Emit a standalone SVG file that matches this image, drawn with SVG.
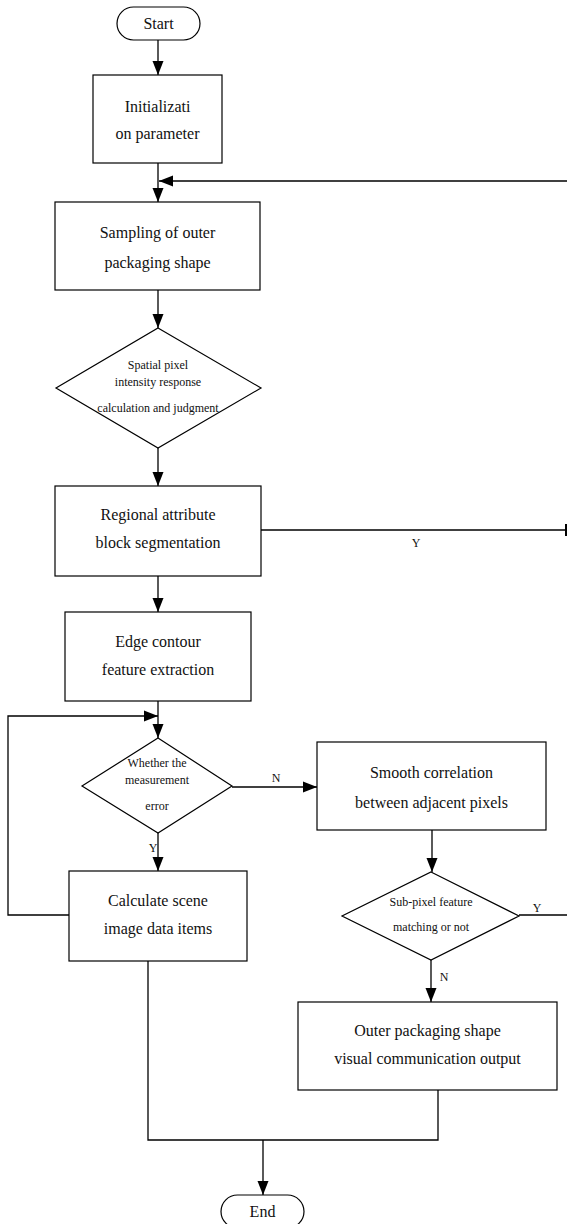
<svg xmlns="http://www.w3.org/2000/svg" width="567" height="1224" viewBox="0 0 567 1224">
  <style>
    .box { fill: #fff; stroke: #000; stroke-width: 1.2; }
    .line { fill: none; stroke: #000; stroke-width: 1.3; }
    .t { font-family: "Liberation Serif", "DejaVu Serif", serif; font-size: 16px; font-weight: normal; fill: #111; text-anchor: middle; }
    .s { font-family: "Liberation Serif", "DejaVu Serif", serif; font-size: 12px; font-weight: normal; fill: #111; text-anchor: middle; }
  </style>
  <defs>
    <marker id="arrow" viewBox="0 0 14 12" refX="14" refY="6" markerWidth="14" markerHeight="12" markerUnits="userSpaceOnUse" orient="auto">
      <path d="M0,0.5 L14,6 L0,11.5 Z" fill="#000"/>
    </marker>
  </defs>

  <!-- connectors -->
  <g id="connectors">
    <line class="line" x1="158" y1="40" x2="158" y2="75" marker-end="url(#arrow)"/>
    <line class="line" x1="158" y1="163" x2="158" y2="202" marker-end="url(#arrow)"/>
    <line class="line" x1="567" y1="181" x2="159" y2="181" marker-end="url(#arrow)"/>
    <line class="line" x1="158" y1="290" x2="158" y2="328" marker-end="url(#arrow)"/>
    <line class="line" x1="158" y1="448" x2="158" y2="486" marker-end="url(#arrow)"/>
    <line class="line" x1="261" y1="530" x2="566" y2="530"/>
    <line x1="566" y1="524" x2="566" y2="536" stroke="#000" stroke-width="2"/>
    <text class="s" x="416" y="547">Y</text>
    <line class="line" x1="158" y1="576" x2="158" y2="612" marker-end="url(#arrow)"/>
    <line class="line" x1="158" y1="701" x2="158" y2="738" marker-end="url(#arrow)"/>
    <polyline class="line" points="69,915 8,915 8,716 158,716" marker-end="url(#arrow)"/>
    <line class="line" x1="232" y1="787" x2="317" y2="787" marker-end="url(#arrow)"/>
    <text class="s" x="276" y="782">N</text>
    <line class="line" x1="158" y1="833" x2="158" y2="871" marker-end="url(#arrow)"/>
    <text class="s" x="153" y="852">Y</text>
    <line class="line" x1="432" y1="830" x2="432" y2="872" marker-end="url(#arrow)"/>
    <line class="line" x1="519" y1="915" x2="567" y2="915"/>
    <text class="s" x="537" y="912">Y</text>
    <line class="line" x1="431" y1="960" x2="431" y2="1002" marker-end="url(#arrow)"/>
    <text class="s" x="444" y="981">N</text>
    <polyline class="line" points="148,961 148,1140 438,1140 438,1090"/>
    <line class="line" x1="263" y1="1140" x2="263" y2="1195" marker-end="url(#arrow)"/>
  </g>

  <g id="start">
    <rect class="box" x="117" y="7" width="83" height="33" rx="16.5"/>
    <text class="t" x="158.5" y="29">Start</text>
  </g>

  <g id="init">
    <rect class="box" x="93" y="75" width="129" height="88"/>
    <text class="t" x="157.5" y="112">Initializati</text>
    <text class="t" x="157.5" y="139">on parameter</text>
  </g>

  <g id="sampling">
    <rect class="box" x="55" y="202" width="205" height="88"/>
    <text class="t" x="157.5" y="238">Sampling of outer</text>
    <text class="t" x="157.5" y="268">packaging shape</text>
  </g>

  <g id="spatial">
    <polygon class="box" points="158,328 261,388 158,448 56,388"/>
    <text class="s" x="158" y="369">Spatial pixel</text>
    <text class="s" x="158" y="386">intensity response</text>
    <text class="s" x="158" y="412">calculation and judgment</text>
  </g>

  <g id="regional">
    <rect class="box" x="55" y="486" width="206" height="90"/>
    <text class="t" x="158" y="520">Regional attribute</text>
    <text class="t" x="158" y="548">block segmentation</text>
  </g>

  <g id="edge">
    <rect class="box" x="65" y="612" width="186" height="89"/>
    <text class="t" x="158" y="647">Edge contour</text>
    <text class="t" x="158" y="675">feature extraction</text>
  </g>

  <g id="measure">
    <polygon class="box" points="158,738 232,786 158,833 82,786"/>
    <text class="s" x="157" y="767">Whether the</text>
    <text class="s" x="157" y="784">measurement</text>
    <text class="s" x="157" y="810">error</text>
  </g>

  <g id="calc">
    <rect class="box" x="69" y="871" width="178" height="90"/>
    <text class="t" x="158" y="906">Calculate scene</text>
    <text class="t" x="158" y="934">image data items</text>
  </g>

  <g id="smooth">
    <rect class="box" x="317" y="742" width="229" height="88"/>
    <text class="t" x="431.5" y="778">Smooth correlation</text>
    <text class="t" x="431.5" y="808">between adjacent pixels</text>
  </g>

  <g id="subpixel">
    <polygon class="box" points="431,872 519,916 431,960 342,916"/>
    <text class="s" x="431" y="906">Sub-pixel feature</text>
    <text class="s" x="431" y="931">matching or not</text>
  </g>

  <g id="output">
    <rect class="box" x="298" y="1002" width="259" height="88"/>
    <text class="t" x="427.5" y="1036">Outer packaging shape</text>
    <text class="t" x="427.5" y="1064">visual communication output</text>
  </g>

  <g id="end">
    <rect class="box" x="221" y="1195" width="83" height="33" rx="16.5"/>
    <text class="t" x="262.5" y="1217">End</text>
  </g>
</svg>
